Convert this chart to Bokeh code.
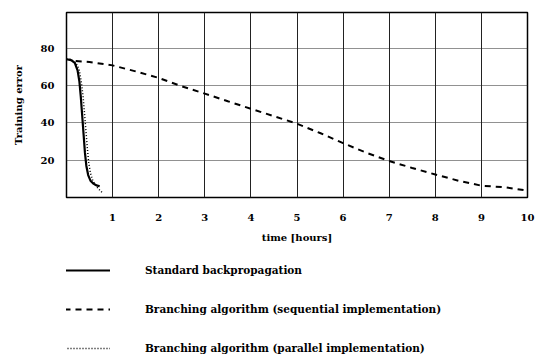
from bokeh.plotting import figure
from bokeh.layouts import column
from bokeh.models import FixedTicker, Legend, LegendItem, Range1d
from bokeh.embed import file_html
from bokeh.resources import INLINE

# Standard backpropagation
std_x = [0, 0.1, 0.18, 0.24, 0.28, 0.31, 0.34, 0.37, 0.40, 0.43, 0.47, 0.52, 0.58, 0.65, 0.72]
std_y = [74, 73.5, 72, 68, 62, 54, 44, 34, 24, 17, 12, 9, 7.5, 6.5, 6]

# Branching algorithm (parallel implementation)
par_x = [0, 0.1, 0.2, 0.27, 0.32, 0.36, 0.39, 0.42, 0.45, 0.48, 0.52, 0.57, 0.63, 0.70, 0.78]
par_y = [74, 74, 72, 69, 62, 54, 45, 36, 27, 19, 13, 9, 6.5, 4.5, 2.5]

# Branching algorithm (sequential implementation)
seq_x = [0.2, 0.5, 1, 1.5, 2, 2.5, 3, 3.5, 4, 4.5, 5, 5.5, 6, 6.5, 7, 7.5, 8, 8.5, 9, 9.5, 10]
seq_y = [73, 72.5, 70.7, 67.5, 64, 59.5, 55.6, 51.5, 47.5, 43.5, 39.5, 34.5, 29.1, 24, 19.5,
         15.8, 12.3, 9, 6.3, 5.5, 3.7]

x_ticks = [1, 2, 3, 4, 5, 6, 7, 8, 9, 10]
y_ticks = [20, 40, 60, 80]

labels = ["Standard backpropagation",
          "Branching algorithm (sequential implementation)",
          "Branching algorithm (parallel implementation)"]

FONT = "DejaVu Serif"
STYLES = [dict(line_color="black", line_width=2.2),
          dict(line_color="black", line_width=2, line_dash="6 5"),
          dict(line_color="black", line_width=1.5, line_dash="1 2")]
SERIES = [(std_x, std_y), (seq_x, seq_y), (par_x, par_y)]

p = figure(width=537, height=250, output_backend="svg", toolbar_location=None,
           x_range=Range1d(0, 10), y_range=Range1d(0, 99),
           min_border_left=66, min_border_right=10, min_border_top=12, min_border_bottom=53)
p.background_fill_color = "white"
p.border_fill_color = "white"
p.outline_line_color = "black"
p.outline_line_width = 1.5

p.xaxis.ticker = FixedTicker(ticks=x_ticks)
p.yaxis.ticker = FixedTicker(ticks=y_ticks)
for ax in (p.xaxis[0], p.yaxis[0]):
    ax.axis_line_color = None
    ax.major_tick_line_color = None
    ax.minor_tick_line_color = None
    ax.major_label_text_font = FONT
    ax.major_label_text_font_style = "bold"
    ax.major_label_text_font_size = "10px"
    ax.major_label_text_color = "black"
    ax.axis_label_text_font = FONT
    ax.axis_label_text_font_style = "bold"
    ax.axis_label_text_font_size = "10px"
    ax.axis_label_text_color = "black"
p.xaxis.major_label_standoff = 10
p.yaxis.major_label_standoff = 6
p.xaxis.axis_label = "time [hours]"
p.yaxis.axis_label = "Training error"
p.xaxis.axis_label_standoff = 8
p.yaxis.axis_label_standoff = 14

p.xgrid.ticker = FixedTicker(ticks=x_ticks)
p.ygrid.ticker = FixedTicker(ticks=y_ticks)
p.xgrid.grid_line_color = "#222222"
p.xgrid.grid_line_width = 1
p.ygrid.grid_line_color = "#222222"
p.ygrid.grid_line_dash = "1 1"
p.ygrid.grid_line_width = 1

for (xs, ys), s in zip(SERIES, STYLES):
    p.line(xs, ys, **s)

# Legend panel below the chart (its lines lie outside its view; only the legend shows)
q = figure(width=537, height=105, output_backend="svg", toolbar_location=None,
           x_range=Range1d(100, 101), y_range=Range1d(100, 101),
           min_border_left=0, min_border_right=0, min_border_top=0, min_border_bottom=0)
q.axis.visible = False
q.grid.visible = False
q.outline_line_color = None
q.background_fill_color = "white"
q.border_fill_color = "white"
leg_r = [q.line(xs, ys, **s) for (xs, ys), s in zip(SERIES, STYLES)]

legend = Legend(items=[LegendItem(label=lab, renderers=[r]) for lab, r in zip(labels, leg_r)],
                location=(-2, 1), orientation="vertical",
                glyph_width=46, glyph_height=12, label_height=12,
                label_standoff=35, spacing=27, padding=0, margin=0,
                border_line_color=None, background_fill_alpha=0,
                label_text_font=FONT, label_text_font_style="bold",
                label_text_font_size="10.5px", label_text_color="black")
q.add_layout(legend, "center")

layout = column(p, q, spacing=0)
open("out.html", "w").write(file_html(layout, INLINE))
